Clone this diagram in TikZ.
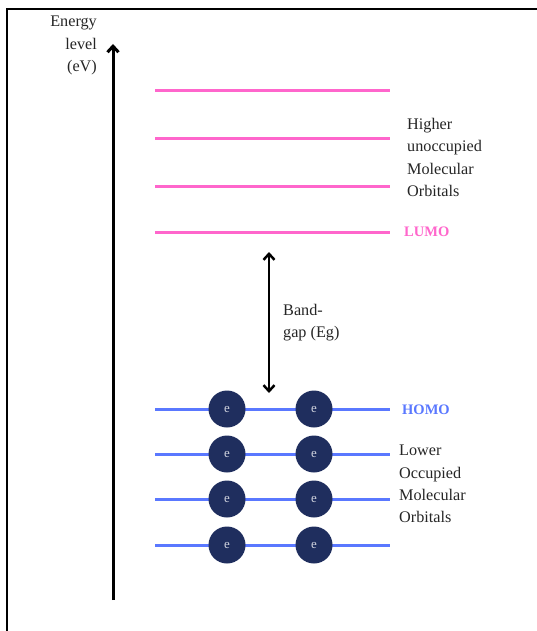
\documentclass[tikz,border=0pt]{standalone}
\usepackage{fontspec}
\setmainfont{Liberation Serif}
\usetikzlibrary{arrows.meta}
\definecolor{pinkline}{HTML}{FF66CC}
\definecolor{blueline}{HTML}{5A78FF}
\definecolor{navy}{HTML}{1F2E5E}
\begin{document}
\begin{tikzpicture}[x=1pt,y=-1pt,
  lbl/.style={font=\fontsize{16.2}{22.3}\selectfont, text=black!85, inner sep=0pt},
  pinklvl/.style={draw=pinkline, line width=3pt},
  bluelvl/.style={draw=blueline, line width=3pt},
  electron/.style={circle, fill=navy, minimum size=37pt, inner sep=0pt, text=white!80!navy, font=\fontsize{13}{13}\selectfont}
]
\useasboundingbox (0,0) rectangle (537,631);
\fill[white] (0,0) rectangle (537,631);
% frame
\draw[line width=2.2pt] (537,9) -- (7,9) -- (7,631);
% axis
\coordinate (ax0) at (113,600);
\coordinate (ax1) at (113,44);
\draw[line width=3pt, -{Straight Barb[length=6pt,width=11pt]}] (ax0) -- (ax1);
\node[lbl, anchor=north east, align=right] (elabel) at (97,16) {Energy\\level\\(eV)};
% pink levels
\foreach \y/\n in {91/p1,139/p2,186/p3,232/p4}{
  \coordinate (\n a) at (155,\y);
  \coordinate (\n b) at (390,\y);
  \draw[pinklvl] (\n a) -- (\n b);
}
\node[lbl, anchor=north west, align=left] (higher) at (407,118) {Higher\\unoccupied\\Molecular\\Orbitals};
\node[lbl, anchor=west, text=pinkline, font=\bfseries\fontsize{14.5}{14.5}\selectfont] (lumo) at (404,232) {LUMO};
% band gap
\coordinate (bg1) at (269,252);
\coordinate (bg2) at (269,393);
\draw[line width=2.5pt, {Straight Barb[length=6pt,width=11pt]}-{Straight Barb[length=6pt,width=11pt]}] (bg1) -- (bg2);
\node[lbl, anchor=north west, align=left] (bandgap) at (283,304) {Band-\\gap (Eg)};
% blue levels
\foreach \y/\n in {409/b1,454/b2,499/b3,545/b4}{
  \coordinate (\n a) at (155,\y);
  \coordinate (\n b) at (390,\y);
  \draw[bluelvl] (\n a) -- (\n b);
  \node[electron] (\n e1) at (227,\y) {e};
  \node[electron] (\n e2) at (314,\y) {e};
}
\node[lbl, anchor=west, text=blueline, font=\bfseries\fontsize{14.5}{14.5}\selectfont] (homo) at (402,410) {HOMO};
\node[lbl, anchor=north west, align=left] (lower) at (399,445) {Lower\\Occupied\\Molecular\\Orbitals};
\end{tikzpicture}
\end{document}
